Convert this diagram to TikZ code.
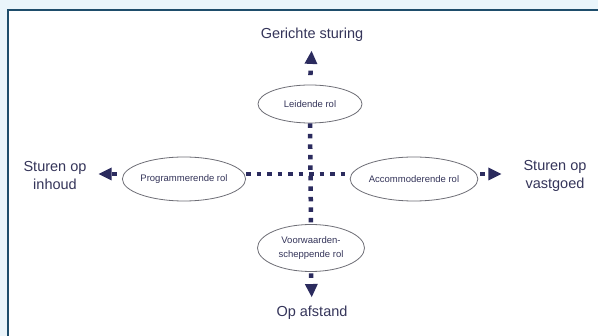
\documentclass[tikz,border=0pt]{standalone}
\usepackage{fontspec}
\setmainfont{Liberation Sans}
\usetikzlibrary{shapes.geometric,arrows.meta}
\definecolor{bgblue}{HTML}{EAF5FB}
\definecolor{frame}{HTML}{1E4D6B}
\definecolor{ink}{HTML}{35355A}
\definecolor{dotc}{HTML}{2B2B5E}
\definecolor{ring}{HTML}{6E6E76}
\begin{document}
\begin{tikzpicture}[x=1pt,y=-1pt,
  role/.style={ellipse,draw=ring,line width=0.8pt,inner sep=0pt,text=ink,
    font=\fontsize{9.5}{14}\selectfont,align=center},
  goal/.style={text=ink,inner sep=0pt,font=\fontsize{14.5}{18}\selectfont,align=center},
  dotline/.style={draw=dotc,line width=4.5pt,dash pattern=on 4.5pt off 6pt},
  spur/.style={draw=dotc,line width=4.5pt,dash pattern=on 4.5pt off 20pt,
    -{Triangle[length=13pt,width=13pt,line width=0pt]}}]
\useasboundingbox (0,0) rectangle (598,336);
\fill[bgblue] (0,0) rectangle (598,336);
\draw[frame,fill=white,line width=2pt] (8,10) rectangle (610,350);
% the four roles
\node[role,minimum width=104pt,minimum height=38pt] (lei) at (310,104) {Leidende rol};
\node[role,minimum width=107pt,minimum height=47pt] (voo) at (311,248) {Voorwaarden-\\scheppende rol};
\node[role,minimum width=106pt,minimum height=44pt] (pro) at (184,179) {Programmerende rol};
\node[role,minimum width=114pt,minimum height=44pt] (acc) at (414,179) {Accommoderende rol};
% the four directions
\node[goal] (ger) at (312,35) {Gerichte sturing};
\node[goal] (afs) at (312,313) {Op afstand};
\node[goal] (inh) at (55,176) {Sturen op\\inhoud};
\node[goal] (vas) at (555,176) {Sturen op\\vastgoed};
\coordinate (mid) at (310,174);
% axes
\draw[dotline] (lei.south) -- (voo.north);
\draw[dotline] (pro.east |- mid) -- (acc.west |- mid);
\draw[spur,dash phase=15pt,shorten >=9pt] (lei.north) -- (ger.south);
\draw[spur,dash phase=23pt,shorten >=9pt] (voo.south) -- (afs.north);
\draw[spur,dash phase=19.5pt,shorten >=12pt] (pro.west |- mid) -- (inh.east |- mid);
\draw[spur,dash phase=22.5pt,shorten >=22pt] (acc.east |- mid) -- (vas.west |- mid);
\end{tikzpicture}
\end{document}
